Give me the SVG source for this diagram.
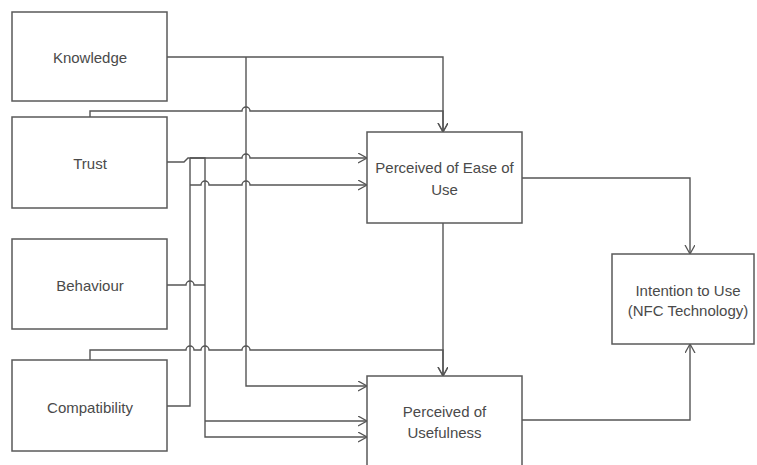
<svg xmlns="http://www.w3.org/2000/svg" width="757" height="465" viewBox="0 0 757 465">
<style>
.box{fill:#fff;stroke:#5a5a5a;stroke-width:1.5}
.lbl{font-family:"Liberation Sans",Arial,sans-serif;font-size:15px;fill:#4a4a4a;text-anchor:middle;dominant-baseline:central}
.c{fill:none;stroke:#555;stroke-width:1.4}
</style>
<defs>
<marker id="arr" markerUnits="userSpaceOnUse" markerWidth="12" markerHeight="12" refX="9" refY="5" orient="auto">
<path d="M0,0 L9,5 L0,10" fill="none" stroke="#555" stroke-width="1.3"/>
</marker>
</defs>
<rect width="757" height="465" fill="#fff"/>
<g id="connectors">
<path class="c" d="M167,57 H443 V132" marker-end="url(#arr)"/>
<path class="c" d="M246,57 V386 H367" marker-end="url(#arr)"/>
<path class="c" d="M90,117 V111 H242 a4,4 0 0 1 8,0 H443 V132" marker-end="url(#arr)"/>
<path class="c" d="M167,162 H184 L188,158 H242 a4,4 0 0 1 8,0 H367" marker-end="url(#arr)"/>
<path class="c" d="M190,158 V406 H167"/>
<path class="c" d="M190,158 H205 V437 H367" marker-end="url(#arr)"/>
<path class="c" d="M205,421 H367" marker-end="url(#arr)"/>
<path class="c" d="M190,185 H201 a4,4 0 0 1 8,0 H242 a4,4 0 0 1 8,0 H367" marker-end="url(#arr)"/>
<path class="c" d="M167,285 H186 a4,4 0 0 1 8,0 H205"/>
<path class="c" d="M90,360 V350 H186 a4,4 0 0 1 8,0 H201 a4,4 0 0 1 8,0 H242 a4,4 0 0 1 8,0 H443 V376" marker-end="url(#arr)"/>
<path class="c" d="M443,223 V376" marker-end="url(#arr)"/>
<path class="c" d="M522,178 H690 V254" marker-end="url(#arr)"/>
<path class="c" d="M522,420 H690 V344" marker-end="url(#arr)"/>
</g>
<g id="knowledge"><rect class="box" x="12" y="12" width="155" height="89"/><text class="lbl" x="90" y="57">Knowledge</text></g>
<g id="trust"><rect class="box" x="12" y="117" width="155" height="91"/><text class="lbl" x="90" y="163">Trust</text></g>
<g id="behaviour"><rect class="box" x="12" y="239" width="155" height="90"/><text class="lbl" x="90" y="285">Behaviour</text></g>
<g id="compatibility"><rect class="box" x="12" y="360" width="155" height="91"/><text class="lbl" x="90" y="407">Compatibility</text></g>
<g id="ease"><rect class="box" x="367" y="132" width="155" height="91"/><text class="lbl" x="444.5" y="167">Perceived of Ease of</text><text class="lbl" x="444.5" y="189">Use</text></g>
<g id="usefulness"><rect class="box" x="367" y="376" width="155" height="95"/><text class="lbl" x="444.5" y="411">Perceived of</text><text class="lbl" x="444.5" y="432">Usefulness</text></g>
<g id="intention"><rect class="box" x="612" y="254" width="142" height="90"/><text class="lbl" x="688" y="290">Intention to Use</text><text class="lbl" x="688" y="310">(NFC Technology)</text></g>
</svg>
